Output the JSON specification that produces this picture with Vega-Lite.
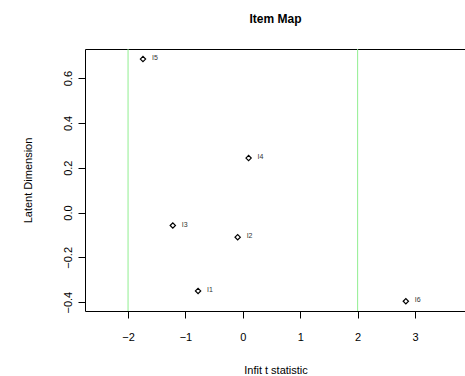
{
  "$schema": "https://vega.github.io/schema/vega-lite/v6.json",
  "width": 381,
  "height": 262,
  "autosize": {"type": "none"},
  "padding": {"left": 85, "top": 49, "right": 0, "bottom": 65},
  "background": "white",
  "config": {
    "font": "Liberation Sans",
    "view": {"stroke": "black", "strokeWidth": 1},
    "axis": {"grid": false, "domain": false, "tickColor": "black", "tickSize": 7, "labelColor": "black", "titleColor": "black", "labelFont": "Liberation Sans", "titleFont": "Liberation Sans", "labelFontSize": 11, "titleFontSize": 11, "titleFontWeight": "normal"}
  },
  "title": {"text": "Item Map", "anchor": "middle", "fontSize": 12, "fontWeight": "bold", "font": "Liberation Sans", "color": "black", "offset": 23},
  "datasets": {
    "items": [
      {"item": "I1", "infit": -0.78, "latent": -0.35},
      {"item": "I2", "infit": -0.09, "latent": -0.11},
      {"item": "I3", "infit": -1.22, "latent": -0.058},
      {"item": "I4", "infit": 0.1, "latent": 0.243},
      {"item": "I5", "infit": -1.74, "latent": 0.685},
      {"item": "I6", "infit": 2.84, "latent": -0.396}
    ],
    "cuts": [{"v": -2}, {"v": 2}]
  },
  "layer": [
    {
      "data": {"name": "cuts"},
      "mark": {"type": "rule", "color": "#90EE90", "strokeWidth": 1},
      "encoding": {"x": {"field": "v", "type": "quantitative", "scale": {"domain": [-2.75, 3.888], "nice": false, "zero": false}}}
    },
    {
      "data": {"name": "items"},
      "mark": {"type": "point", "shape": "diamond", "filled": false, "stroke": "black", "strokeWidth": 1.2, "size": 28, "opacity": 1},
      "encoding": {
        "x": {"field": "infit", "type": "quantitative", "title": "Infit t statistic",
          "scale": {"domain": [-2.75, 3.888], "nice": false, "zero": false},
          "axis": {"values": [-2, -1, 0, 1, 2, 3], "labelPadding": 13, "titlePadding": 22, "format": "d", "labelExpr": "replace(datum.label, '-', '\u2212')"}},
        "y": {"field": "latent", "type": "quantitative", "title": "Latent Dimension",
          "scale": {"domain": [-0.4396, 0.73], "nice": false, "zero": false},
          "axis": {"values": [-0.4, -0.2, 0, 0.2, 0.4, 0.6], "format": ".1f", "labelAngle": -90, "labelAlign": "center", "labelBaseline": "bottom", "labelPadding": 5, "titlePadding": 29, "labelExpr": "replace(datum.label, '-', '\u2212')"}}
      }
    },
    {
      "data": {"name": "items"},
      "mark": {"type": "text", "align": "left", "baseline": "middle", "dx": 9, "dy": -1, "fontSize": 7, "fill": "#333333"},
      "encoding": {
        "x": {"field": "infit", "type": "quantitative"},
        "y": {"field": "latent", "type": "quantitative"},
        "text": {"field": "item"}
      }
    }
  ]
}
